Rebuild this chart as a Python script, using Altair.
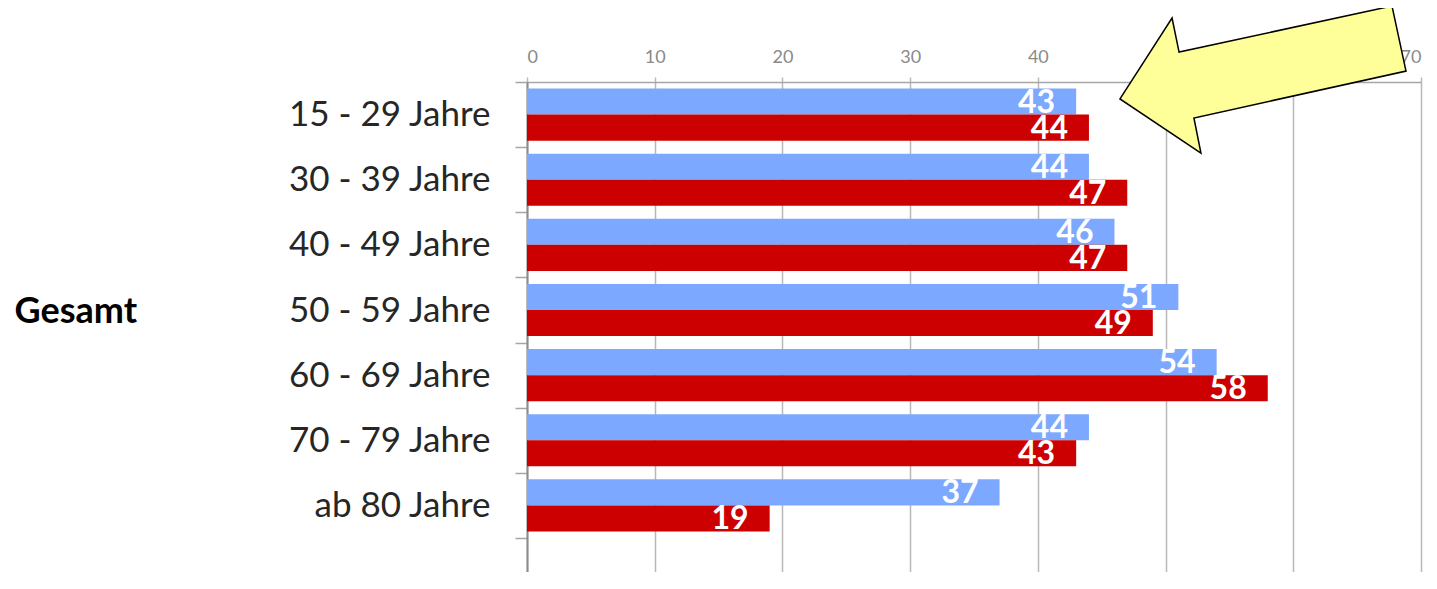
import altair as alt
import pandas as pd

categories = ["15 - 29 Jahre", "30 - 39 Jahre", "40 - 49 Jahre", "50 - 59 Jahre",
              "60 - 69 Jahre", "70 - 79 Jahre", "ab 80 Jahre"]
series_names = ["Reihe 1", "Reihe 2"]
blue_values = [43, 44, 46, 51, 54, 44, 37]
red_values = [44, 47, 47, 49, 58, 43, 19]
x_ticks = [0, 10, 20, 30, 40, 50, 60, 70]
colors = ["#7ca8ff", "#cc0000"]

rows = []
for c, b, r in zip(categories, blue_values, red_values):
    rows.append({"Alter": c, "Reihe": series_names[0], "Wert": b})
    rows.append({"Alter": c, "Reihe": series_names[1], "Wert": r})
df = pd.DataFrame(rows)

W = 894
H = 490
STEP = 456 / 7
p_outer = (H / STEP - 7) / 2

y_enc = alt.Y(
    "Alter:N", sort=categories,
    scale=alt.Scale(domain=categories, paddingInner=0, paddingOuter=p_outer, align=0),
    axis=alt.Axis(
        title="Gesamt", titleAngle=0, titleAlign="left", titleBaseline="middle",
        titleX=-513, titleY=229, titleFont="Lato", titleFontSize=36,
        titleFontWeight="bold", titleColor="#000000",
        domainColor="#8c8c8c", domainWidth=2,
        tickColor="#a6a6a6", tickSize=12, tickWidth=1.5, tickBand="extent",
        labelFont="Lato", labelFontSize=35, labelColor="#262626", labelPadding=25,
        labelLimit=400, grid=False,
    ),
)
yoff = alt.YOffset("Reihe:N", sort=series_names,
                   scale=alt.Scale(domain=series_names, paddingInner=0, paddingOuter=0.25))
x_enc = alt.X(
    "Wert:Q", scale=alt.Scale(domain=[0, 70], nice=False, zero=True),
    axis=alt.Axis(
        orient="top", values=x_ticks, title=None,
        domainColor="#a6a6a6", domainWidth=1.5,
        grid=True, gridColor="#b8b8b8", gridWidth=1.5,
        tickColor="#b8b8b8", tickSize=5, tickWidth=1.5,
        labelFont="Lato", labelFontSize=18, labelColor="#8a8a8a",
        labelBaseline="alphabetic", labelPadding=15,
    ),
)

base = alt.Chart(df)
bars = base.mark_bar(cornerRadius=0).encode(
    x=x_enc, y=y_enc, yOffset=yoff,
    color=alt.Color("Reihe:N", scale=alt.Scale(domain=series_names, range=colors), legend=None),
)
texts = base.mark_text(
    align="right", baseline="middle", dx=-21, dy=1,
    font="Lato", fontSize=32, fontWeight="bold", color="white",
).encode(
    x="Wert:Q", y=alt.Y("Alter:N", sort=categories), yOffset=alt.YOffset("Reihe:N", sort=series_names),
    text="Wert:Q",
)

ARROW = ("M-1,0.136 L-0.636,-0.43 L-0.587,-0.192 L0.902,-0.514 "
         "L1,-0.059 L-0.483,0.269 L-0.434,0.514 Z")
arrow = alt.Chart(pd.DataFrame({"a": [0]})).mark_point(
    shape=ARROW, size=286 * 286, filled=True, fill="#ffff99", stroke="#000000",
    strokeWidth=1.5, opacity=1, fillOpacity=1, strokeOpacity=1,
).encode(x=alt.value(736), y=alt.value(-2.5))

chart = alt.layer(bars, texts, arrow).properties(
    width=W, height=H,
    autosize=alt.AutoSizeParams(type="none"),
    padding={"left": 519, "top": 74, "right": 8, "bottom": 0},
).configure_view(strokeWidth=0).configure(background="white")

chart.save("out.html", embed_options={"renderer": "svg", "actions": False})
